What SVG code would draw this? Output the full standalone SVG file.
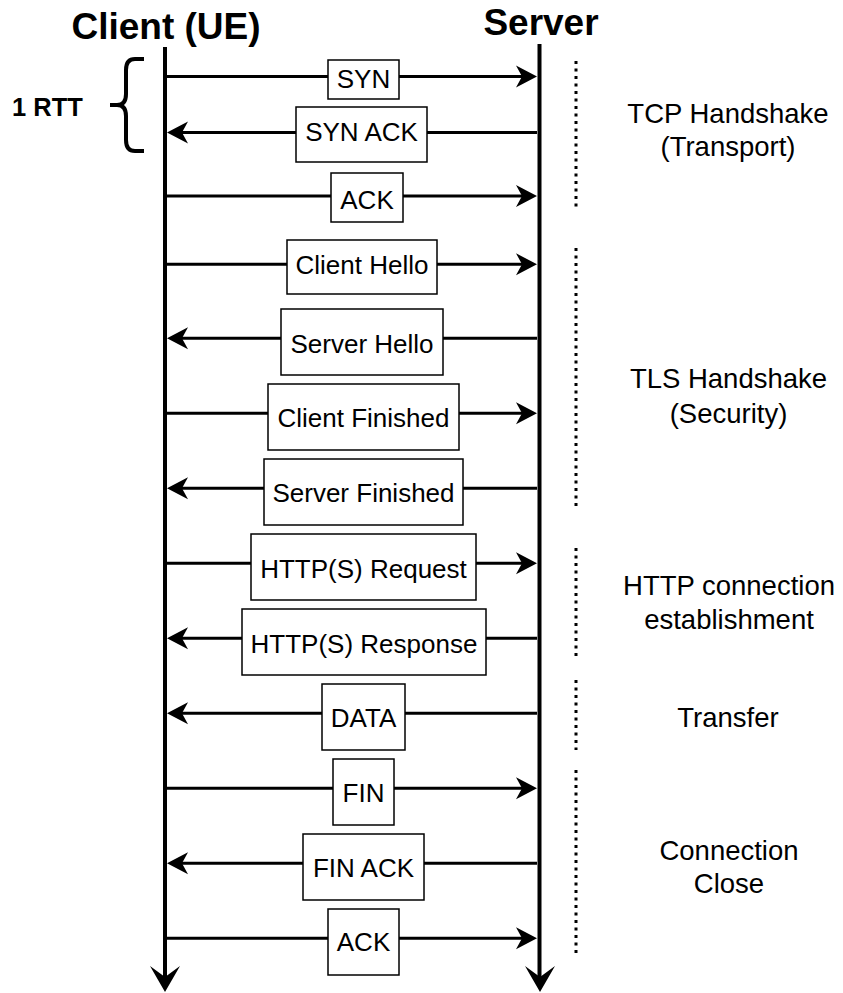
<svg xmlns="http://www.w3.org/2000/svg" width="843" height="993" viewBox="0 0 843 993">
<style>
text{font-family:"Liberation Sans",Arial,sans-serif;fill:#000}
.title{font-size:37px;font-weight:bold;text-anchor:middle}
.rtt{font-size:25.5px;font-weight:bold}
.msg{font-size:26px;text-anchor:middle}
.lbl{font-size:27.5px;text-anchor:middle}
.box{fill:#fff;stroke:#000;stroke-width:1.5}
.life{stroke:#000;stroke-width:4;fill:none}
.line{stroke:#000;stroke-width:3;fill:none}
.dot{stroke:#000;stroke-width:3;stroke-dasharray:3 4.5;fill:none}
.brace{stroke:#000;stroke-width:4;fill:none;stroke-linecap:butt}
</style>
<defs>
<path id="ar" d="M0,0 L-21,-11 L-15,0 L-21,11 Z" fill="#000"/>
<path id="al" d="M0,0 L21,-11 L15,0 L21,11 Z" fill="#000"/>
<path id="ad" d="M0,0 L-15,-26 L0,-15 L15,-26 Z" fill="#000"/>
</defs>

<g id="client-lifeline">
<text class="title" x="166" y="39">Client (UE)</text>
<line class="life" x1="165" y1="47" x2="165" y2="980"/>
<use href="#ad" x="165" y="992"/>
</g>
<g id="server-lifeline">
<text class="title" x="541" y="35">Server</text>
<line class="life" x1="539.5" y1="44" x2="539.5" y2="980"/>
<use href="#ad" x="540" y="992"/>
</g>

<g id="rtt-brace">
<text class="rtt" x="12" y="116">1 RTT</text>
<path class="brace" d="M144,59 L135,59 Q126,59 126,70 L126,94 Q126,105 117,105 L110,105 M117,105 Q126,105 126,116 L126,140 Q126,151 135,151 L144,151"/>
</g>

<g id="connectors">
<line class="line" x1="167" y1="76.5" x2="523" y2="76.5"/><use href="#ar" x="537" y="76.5"/>
<line class="line" x1="181" y1="132.5" x2="537" y2="132.5"/><use href="#al" x="167" y="132.5"/>
<line class="line" x1="167" y1="196" x2="523" y2="196"/><use href="#ar" x="537" y="196"/>
<line class="line" x1="167" y1="264.3" x2="523" y2="264.3"/><use href="#ar" x="537" y="264.3"/>
<line class="line" x1="181" y1="338.3" x2="537" y2="338.3"/><use href="#al" x="167" y="338.3"/>
<line class="line" x1="167" y1="413.3" x2="523" y2="413.3"/><use href="#ar" x="537" y="413.3"/>
<line class="line" x1="181" y1="488.3" x2="537" y2="488.3"/><use href="#al" x="167" y="488.3"/>
<line class="line" x1="167" y1="563.3" x2="523" y2="563.3"/><use href="#ar" x="537" y="563.3"/>
<line class="line" x1="181" y1="638.3" x2="537" y2="638.3"/><use href="#al" x="167" y="638.3"/>
<line class="line" x1="181" y1="713.3" x2="537" y2="713.3"/><use href="#al" x="167" y="713.3"/>
<line class="line" x1="167" y1="788.3" x2="523" y2="788.3"/><use href="#ar" x="537" y="788.3"/>
<line class="line" x1="181" y1="863.3" x2="537" y2="863.3"/><use href="#al" x="167" y="863.3"/>
<line class="line" x1="167" y1="938.3" x2="523" y2="938.3"/><use href="#ar" x="537" y="938.3"/>
</g>

<g id="msg-syn"><rect class="box" x="328" y="60" width="71" height="39"/><text class="msg" x="363.5" y="87.5">SYN</text></g>
<g id="msg-synack"><rect class="box" x="296" y="107" width="131" height="55"/><text class="msg" x="361.5" y="140.5">SYN ACK</text></g>
<g id="msg-ack1"><rect class="box" x="331" y="173" width="72" height="49"/><text class="msg" x="367" y="208.5">ACK</text></g>
<g id="msg-clienthello"><rect class="box" x="287" y="240" width="150" height="54"/><text class="msg" x="362" y="273.5">Client Hello</text></g>
<g id="msg-serverhello"><rect class="box" x="281" y="309" width="162" height="66"/><text class="msg" x="362" y="352.5">Server Hello</text></g>
<g id="msg-clientfinished"><rect class="box" x="268" y="384" width="191" height="66"/><text class="msg" x="363.5" y="427">Client Finished</text></g>
<g id="msg-serverfinished"><rect class="box" x="264" y="459" width="199" height="66"/><text class="msg" x="363.5" y="502">Server Finished</text></g>
<g id="msg-httpreq"><rect class="box" x="251" y="534" width="225" height="66"/><text class="msg" x="363.5" y="578">HTTP(S) Request</text></g>
<g id="msg-httpresp"><rect class="box" x="242" y="609" width="244" height="66"/><text class="msg" x="364" y="653">HTTP(S) Response</text></g>
<g id="msg-data"><rect class="box" x="322" y="684" width="83" height="66"/><text class="msg" x="363.5" y="727">DATA</text></g>
<g id="msg-fin"><rect class="box" x="333" y="759" width="61" height="66"/><text class="msg" x="363.5" y="802">FIN</text></g>
<g id="msg-finack"><rect class="box" x="303" y="834" width="121" height="66"/><text class="msg" x="363.5" y="876.5">FIN ACK</text></g>
<g id="msg-ack2"><rect class="box" x="328" y="909" width="71" height="66"/><text class="msg" x="363.5" y="951">ACK</text></g>

<g id="phase-tcp"><line class="dot" x1="576" y1="61" x2="576" y2="207"/><text class="lbl" x="728" y="123">TCP Handshake</text><text class="lbl" x="728" y="156">(Transport)</text></g>
<g id="phase-tls"><line class="dot" x1="576" y1="248" x2="576" y2="507"/><text class="lbl" x="728.5" y="388">TLS Handshake</text><text class="lbl" x="728.5" y="423">(Security)</text></g>
<g id="phase-http"><line class="dot" x1="576" y1="548" x2="576" y2="657"/><text class="lbl" x="729" y="595">HTTP connection</text><text class="lbl" x="729" y="629">establishment</text></g>
<g id="phase-transfer"><line class="dot" x1="576" y1="680" x2="576" y2="750"/><text class="lbl" x="728" y="727">Transfer</text></g>
<g id="phase-close"><line class="dot" x1="576" y1="770" x2="576" y2="955"/><text class="lbl" x="729" y="860">Connection</text><text class="lbl" x="729" y="893">Close</text></g>
</svg>
